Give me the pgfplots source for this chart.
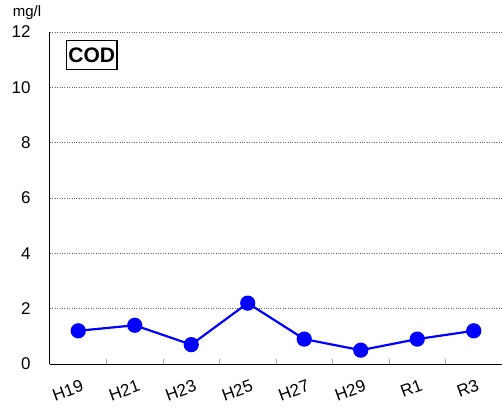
\documentclass[border=0pt]{standalone}
\usepackage{fontspec}
\setmainfont{Liberation Sans}
\usepackage{pgfplots}
\pgfplotsset{compat=1.18}
\begin{document}
\begin{tikzpicture}
\useasboundingbox (-50pt,-50pt) rectangle (452pt,364pt);
\begin{axis}[
  scale only axis,
  width=452pt, height=332pt,
  xmin=-0.5, xmax=7.5, ymin=0, ymax=12,
  axis x line*=bottom, axis y line*=left,
  axis line style={black, line width=1pt},
  xtick={0,...,7},
  xticklabels={H19,H21,H23,H25,H27,H29,R1,R3},
  major x tick style={draw=none},
  minor xtick={0.5,1.5,...,6.5},
  minor tick length=5pt,
  minor x tick style={gray!70, line width=0.5pt},
  xtick pos=bottom, xtick align=inside,
  ytick={0,2,...,12},
  ytick style={draw=none},
  ymajorgrids,
  major grid style={dotted, gray!80!black, line width=0.6pt},
  tick label style={font=\fontsize{17}{17}\selectfont},
  /pgf/number format/assume math mode=true,
  yticklabel style={xshift=-16pt},
  xticklabel style={rotate=20, anchor=north east, xshift=-2pt, yshift=-14pt, inner sep=1pt},
  clip=false,
]
\addplot[blue, line width=2.2pt, mark=*, mark size=6.5pt, mark options={fill=blue, draw=blue}]
  coordinates {(0,1.2) (1,1.4) (2,0.7) (3,2.2) (4,0.9) (5,0.5) (6,0.9) (7,1.2)};
\node[draw, line width=1.2pt, anchor=north west, inner xsep=2pt, inner ysep=7pt, font=\fontsize{21}{21}\selectfont\bfseries]
  at (axis description cs:0.035,0.976) {COD};
\node[font=\fontsize{15}{15}\selectfont] at (axis description cs:0,1) [xshift=-23pt, yshift=19pt] {mg/l};
\end{axis}
\end{tikzpicture}
\end{document}
